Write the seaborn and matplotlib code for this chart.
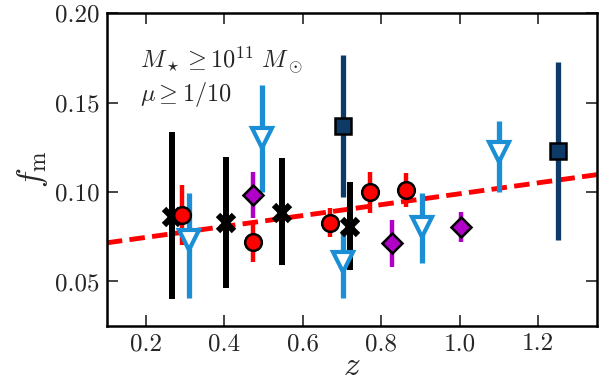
import matplotlib
matplotlib.use('Agg')
import matplotlib.pyplot as plt
import seaborn as sns
import numpy as np

# black crosses
z_x = [0.267, 0.405, 0.546, 0.720]
f_x = [0.086, 0.0827, 0.0883, 0.0804]
lo_x = [0.040, 0.0464, 0.0592, 0.0564]
hi_x = [0.1335, 0.1196, 0.119, 0.1056]

# red circles
z_c = [0.292, 0.472, 0.669, 0.772, 0.862]
f_c = [0.0872, 0.0721, 0.0827, 0.1000, 0.1011]
lo_c = [0.0704, 0.0609, 0.0749, 0.0883, 0.0916]
hi_c = [0.1039, 0.0832, 0.0911, 0.1112, 0.1106]

# magenta diamonds
z_d = [0.474, 0.828, 1.003]
f_d = [0.0983, 0.0715, 0.0804]
lo_d = [0.0855, 0.0581, 0.0721]
hi_d = [0.1112, 0.0844, 0.0888]

# navy squares
z_s = [0.703, 1.251]
f_s = [0.1369, 0.1229]
lo_s = [0.0972, 0.0732]
hi_s = [0.1765, 0.1726]

# blue open triangles
z_t = [0.310, 0.497, 0.703, 0.903, 1.100]
f_t = [0.0732, 0.1300, 0.0609, 0.0804, 0.1224]
lo_t = [0.0408, 0.1000, 0.0408, 0.0603, 0.1000]
hi_t = [0.0994, 0.1598, 0.0788, 0.0994, 0.1397]

# fit line
z_fit = [0.1, 1.35]
f_fit = [0.0716, 0.1097]

sns.set_style('ticks')
plt.rcParams['font.family'] = 'serif'
plt.rcParams['font.serif'] = ['cmr10', 'DejaVu Serif']
plt.rcParams['mathtext.fontset'] = 'cm'
plt.rcParams['axes.formatter.use_mathtext'] = True

fig, ax = plt.subplots(figsize=(6, 3.86), dpi=100)
fig.subplots_adjust(left=0.178, right=0.995, bottom=0.155, top=0.966)

sns.lineplot(x=z_fit, y=f_fit, ax=ax, color='#ff0000', lw=3.5, zorder=2)
ax.lines[-1].set_linestyle((0, (3.2, 1.5)))

def group(z, f, lo, hi, color, marker, ms, face, lw, edge='black', mew=1.8):
    ax.vlines(z, lo, hi, colors=color, lw=lw, zorder=3)
    ax.plot(z, f, ls='none', marker=marker, ms=ms, mfc=face, mec=edge,
            mew=mew, zorder=4)

group(z_x, f_x, lo_x, hi_x, 'black', 'x', 11, 'black', 4.3, mew=4.5)
group(z_c, f_c, lo_c, hi_c, '#ff0000', 'o', 12, '#ff0000', 3.2)
group(z_d, f_d, lo_d, hi_d, '#b000c8', 'D', 10.5, '#b000c8', 3.2)
group(z_s, f_s, lo_s, hi_s, '#0d3a66', 's', 11, '#0d3a66', 3.8)
group(z_t, f_t, lo_t, hi_t, '#1a8fd6', 'v', 14, 'white', 3.8,
      edge='#1a8fd6', mew=3)

ax.set_xlim(0.1, 1.35)
ax.set_ylim(0.025, 0.20)
ax.set_xticks([0.2, 0.4, 0.6, 0.8, 1.0, 1.2])
ax.set_xticklabels(['0.2', '0.4', '0.6', '0.8', '1.0', '1.2'])
ax.set_yticks([0.05, 0.10, 0.15, 0.20])
ax.set_yticklabels(['0.05', '0.10', '0.15', '0.20'])
ax.tick_params(direction='in', length=8, width=1.2, top=True, right=True,
               labelsize=18, pad=5)
for s in ax.spines.values():
    s.set_linewidth(1.8)
    s.set_color('black')

ax.set_xlabel(r'$z$', fontsize=24, labelpad=-2)
ax.set_ylabel(r'$f_{\rm m}$', fontsize=24, labelpad=4)

ax.text(0.067, 0.90, r'$M_\star \geq 10^{11}\ M_\odot$' + '\n' + r'$\mu \geq 1/10$',
        transform=ax.transAxes, fontsize=17.5, va='top', ha='left',
        linespacing=1.2)

fig.savefig('out.png', dpi=100)
